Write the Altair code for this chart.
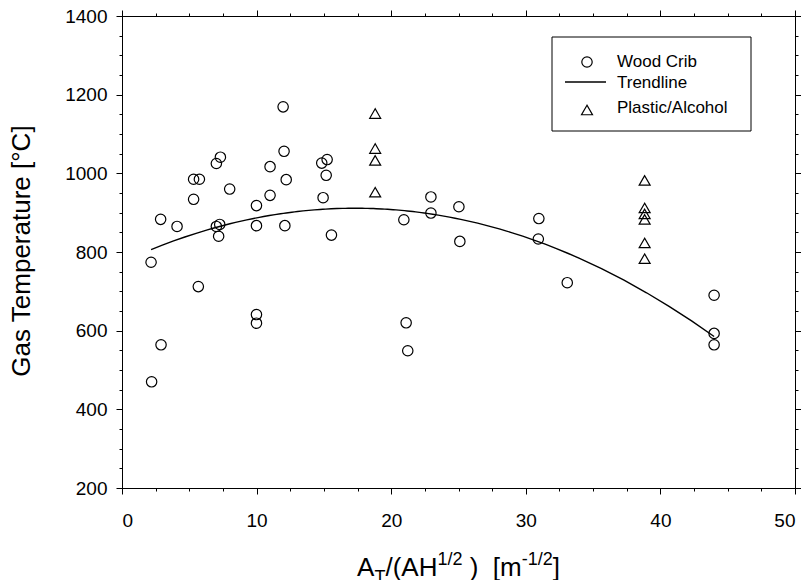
import altair as alt
import pandas as pd

# ---------------- data ----------------
wood_x = [2.16, 2.2, 2.87, 2.9, 4.09, 5.32, 5.75, 5.32, 5.67, 7.01, 7.31, 8.0,
          7.01, 7.26, 7.18, 9.99, 9.99, 9.99, 9.99, 11.0, 11.0, 11.97, 12.04,
          12.2, 12.1, 14.84, 15.24, 15.17, 14.94, 15.56,
          20.94, 21.11, 21.23, 22.95, 22.95, 25.03, 25.1,
          30.97, 30.93, 33.08, 43.99, 43.99, 43.99]
wood_t = [774, 470, 883, 564, 865, 985, 985, 934, 712, 1025, 1041, 960,
          865, 870, 840, 918, 867, 641, 619, 1017, 944, 1169, 1056,
          984, 867, 1026, 1035, 995, 938, 843,
          882, 620, 549, 940, 899, 915, 827,
          885, 833, 722, 690, 593, 564]
plastic_x = [18.81, 18.81, 18.81, 18.81, 38.83, 38.83, 38.83, 38.83, 38.83, 38.83]
plastic_t = [1152, 1063, 1033, 952, 982, 912, 897, 883, 823, 783]

x_major = [0, 10, 20, 30, 40, 50]
x_minor = [2.5, 5, 7.5, 12.5, 15, 17.5, 22.5, 25, 27.5, 32.5, 35, 37.5, 42.5, 45, 47.5]
y_major = [200, 400, 600, 800, 1000, 1200, 1400]
y_minor = [250, 300, 350, 450, 500, 550, 650, 700, 750, 850, 900, 950,
           1050, 1100, 1150, 1250, 1300, 1350]

legend_labels = ["Wood Crib", "Trendline", "Plastic/Alcohol"]
y_title = "Gas Temperature [°C]"

wood = pd.DataFrame({"x": wood_x, "t": wood_t})
plastic = pd.DataFrame({"x": plastic_x, "t": plastic_t})
one = pd.DataFrame({"k": [0]})

W, H = 673, 472
FONT = "Liberation Sans"
TICK_FS = 19
TITLE_FS = 26
SCRIPT_FS = 18
LEG_FS = 17

xs = alt.Scale(domain=[0, 50], nice=False, zero=False)
ys = alt.Scale(domain=[200, 1400], nice=False, zero=False)


def ax(orient, values, size, labels, pad=0):
    kw = dict(orient=orient, values=values, tickSize=size, tickColor="black",
              tickWidth=1, domainColor="black", domainWidth=1, grid=False,
              title="", labels=labels)
    if labels:
        kw.update(labelFont=FONT, labelFontSize=TICK_FS, labelColor="black",
                  labelPadding=pad, format="d", labelOverlap=False)
    return alt.Axis(**kw)


base = alt.Chart(wood)

main = base.mark_point(shape="circle", filled=False, size=108, color="black",
                       strokeWidth=1.2, opacity=1).encode(
    x=alt.X("x:Q", scale=xs, axis=ax("bottom", x_major, 6, True, 17)),
    y=alt.Y("t:Q", scale=ys, axis=ax("left", y_major, 6, True, 9)),
)

minor = base.mark_point(opacity=0).encode(
    x=alt.X("x:Q", scale=xs, axis=ax("bottom", x_minor, 3, False)),
    y=alt.Y("t:Q", scale=ys, axis=ax("left", y_minor, 3, False)),
)
top_major = base.mark_point(opacity=0).encode(
    x=alt.X("x:Q", scale=xs, axis=ax("top", x_major, 6, False)),
    y=alt.Y("t:Q", scale=ys, axis=ax("right", y_major, 6, False)),
)
top_minor = base.mark_point(opacity=0).encode(
    x=alt.X("x:Q", scale=xs, axis=ax("top", x_minor, 3, False)),
    y=alt.Y("t:Q", scale=ys, axis=ax("right", y_minor, 3, False)),
)

trend = base.transform_regression(
    "x", "t", method="poly", order=2, extent=[min(wood_x), max(wood_x)]
).mark_line(color="black", strokeWidth=1.4).encode(
    x=alt.X("x:Q", scale=xs, axis=None), y=alt.Y("t:Q", scale=ys, axis=None)
)

tri = alt.Chart(plastic).mark_point(shape="triangle-up", filled=False, size=120,
                                    color="black", strokeWidth=1.2, opacity=1).encode(
    x=alt.X("x:Q", scale=xs, axis=None), y=alt.Y("t:Q", scale=ys, axis=None)
)

# ---------------- legend (drawn) ----------------
oc = alt.Chart(one)
leg_box = oc.mark_rect(fillOpacity=0, stroke="black", strokeWidth=1).encode(
    x=alt.value(430), x2=alt.value(629), y=alt.value(21), y2=alt.value(115))
leg_c = oc.mark_point(shape="circle", filled=False, size=108, color="black",
                      strokeWidth=1.2, opacity=1).encode(x=alt.value(465), y=alt.value(46))
leg_l = oc.mark_rule(color="black", strokeWidth=1.4).encode(
    x=alt.value(443), x2=alt.value(484), y=alt.value(66))
leg_t = oc.mark_point(shape="triangle-up", filled=False, size=120, color="black",
                      strokeWidth=1.2, opacity=1).encode(x=alt.value(465), y=alt.value(94))
leg_txt = [
    oc.mark_text(align="left", baseline="middle", font=FONT, fontSize=LEG_FS,
                 color="black").encode(x=alt.value(495), y=alt.value(yy), text=alt.value(s))
    for s, yy in zip(legend_labels, [46, 67, 92])
]

# ---------------- axis titles (drawn, with sub/superscripts) ----------------
ytitle = oc.mark_text(angle=270, align="center", baseline="alphabetic", font=FONT,
                      fontSize=TITLE_FS, color="black").encode(
    x=alt.value(-92), y=alt.value(H / 2 - 1), text=alt.value(y_title))

AW = {"A": 667, "T": 611, "/": 278, "(": 333, "H": 722, "1": 556, "2": 556,
      ")": 333, "[": 278, "m": 833, "-": 333, "]": 278, " ": 278}


def tw(s, fs):
    return sum(AW[c] for c in s) / 1000 * fs


pieces = [("A", TITLE_FS, 0, 0), ("T", SCRIPT_FS, 7, 0), ("/(AH", TITLE_FS, 0, 0),
          ("1/2", SCRIPT_FS, -11, 0), (")", TITLE_FS, 0, tw(" ", TITLE_FS)),
          ("[m", TITLE_FS, 0, tw("  ", TITLE_FS)), ("-1/2", SCRIPT_FS, -11, 0),
          ("]", TITLE_FS, 0, 0)]
total = sum(tw(p[0], p[1]) + p[3] for p in pieces)
cx = W / 2 - total / 2
base_y = 560
xt_layers = []
for s, fs, dy, gap in pieces:
    cx += gap
    xt_layers.append(oc.mark_text(align="left", baseline="alphabetic", font=FONT,
                                  fontSize=fs, color="black").encode(
        x=alt.value(cx), y=alt.value(base_y + dy), text=alt.value(s)))
    cx += tw(s, fs)

chart = alt.layer(
    main, minor, top_major, top_minor, trend, tri,
    leg_box, leg_c, leg_l, leg_t, *leg_txt, ytitle, *xt_layers
).resolve_scale(x="shared", y="shared").properties(
    width=W, height=H,
    autosize=alt.AutoSizeParams(type="none"),
    padding={"left": 114, "top": 8, "right": 6, "bottom": 92},
).configure_view(stroke="black", strokeWidth=1).configure(background="white")

chart.save("out.html", embed_options={"renderer": "svg", "actions": False})
